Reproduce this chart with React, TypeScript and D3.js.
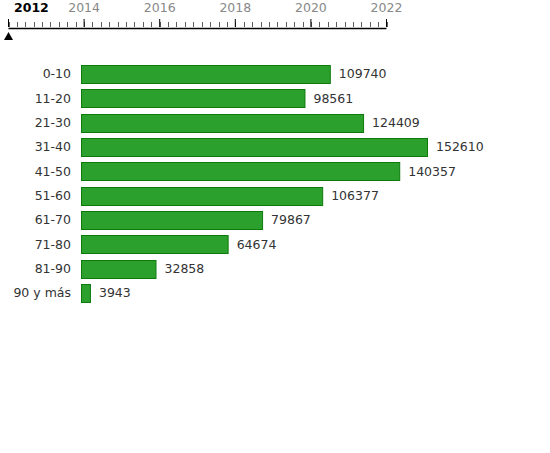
import { useEffect, useRef } from "react";
import * as d3 from "d3";

const ageGroups = ["0-10", "11-20", "21-30", "31-40", "41-50", "51-60", "61-70", "71-80", "81-90", "90 y más"];
const population = [109740, 98561, 124409, 152610, 140357, 106377, 79867, 64674, 32858, 3943];
const years = [2012, 2014, 2016, 2018, 2020, 2022];
const currentYear = 2012;

export default function App() {
  const gRef = useRef<SVGGElement>(null);

  useEffect(() => {
    if (!gRef.current) return;
    const g = d3.select(gRef.current);
    g.selectAll("*").remove();

    // timeline at the top
    const t = d3.scaleLinear().domain([2012, 2022]).range([8.5, 386.5]);
    const tl = g.append("g");
    tl.append("line")
      .attr("x1", t(2012)).attr("x2", t(2022))
      .attr("y1", 28.5).attr("y2", 28.5)
      .attr("stroke", "#000").attr("stroke-width", 1.5);
    const minor = d3.range(0, 46).map((i) => 2012 + (i * 10) / 45);
    tl.selectAll("line.minor")
      .data(minor)
      .join("line")
      .attr("class", "minor")
      .attr("x1", (d) => Math.round(t(d)) + 0.5)
      .attr("x2", (d) => Math.round(t(d)) + 0.5)
      .attr("y1", 22).attr("y2", 27)
      .attr("stroke", "#333").attr("stroke-width", 0.8);
    tl.selectAll("line.major")
      .data(years)
      .join("line")
      .attr("class", "major")
      .attr("x1", (d) => t(d)).attr("x2", (d) => t(d))
      .attr("y1", 19).attr("y2", 27)
      .attr("stroke", "#000").attr("stroke-width", 1);
    tl.selectAll("text")
      .data(years)
      .join("text")
      .attr("x", (d) => (d === currentYear ? t(d) + 5.5 : t(d)))
      .attr("y", 12)
      .attr("text-anchor", (d) => (d === currentYear ? "start" : "middle"))
      .attr("font-size", 12.5)
      .attr("font-weight", (d) => (d === currentYear ? "bold" : "normal"))
      .attr("fill", (d) => (d === currentYear ? "#000" : "#888"))
      .text((d) => d);
    const cx = t(currentYear);
    tl.append("path")
      .attr("d", `M${cx - 4.5},40 L${cx + 4.5},40 L${cx},32 Z`)
      .attr("fill", "#000");

    // bars
    const x = d3.scaleLinear().domain([0, d3.max(population)!]).range([0, 346]);
    const y = d3.scaleBand().domain(ageGroups).range([65, 302]).paddingInner(0.26).paddingOuter(0);
    const left = 81.5;

    const rows = g.selectAll("g.row")
      .data(ageGroups.map((a, i) => ({ a, v: population[i] })))
      .join("g")
      .attr("class", "row");
    rows.append("rect")
      .attr("x", left)
      .attr("y", (d) => Math.round(y(d.a)!) + 0.5)
      .attr("width", (d) => x(d.v))
      .attr("height", y.bandwidth())
      .attr("fill", "#2ca02c")
      .attr("stroke", "#0e7a0e")
      .attr("stroke-width", 1);
    rows.append("text")
      .attr("x", 71)
      .attr("y", (d) => y(d.a)! + y.bandwidth() / 2)
      .attr("dy", "0.35em")
      .attr("text-anchor", "end")
      .attr("font-size", 12.5)
      .attr("fill", "#333")
      .text((d) => d.a);
    rows.append("text")
      .attr("x", (d) => left + x(d.v) + 8.5)
      .attr("y", (d) => y(d.a)! + y.bandwidth() / 2)
      .attr("dy", "0.35em")
      .attr("font-size", 12.5)
      .attr("fill", "#333")
      .text((d) => d.v);
  }, []);

  return (
    <svg width={550} height={453} style={{ position: "absolute", left: 0, top: 0, fontFamily: "DejaVu Sans" }}>
      <g ref={gRef}></g>
    </svg>
  );
}
